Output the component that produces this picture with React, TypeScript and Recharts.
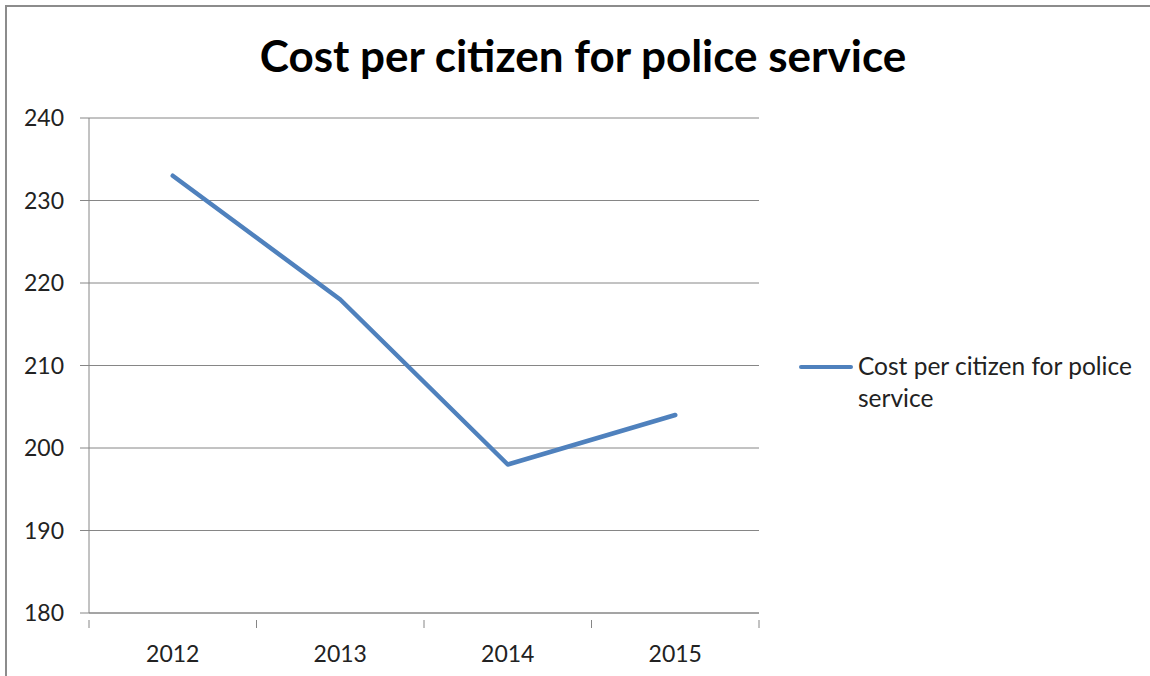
import React from "react";
import { LineChart, Line, XAxis, YAxis, CartesianGrid } from "recharts";

const years = ["2012", "2013", "2014", "2015"];
const costPerCitizen = [233, 218, 198, 204];
const yTicks = [180, 190, 200, 210, 220, 230, 240];
const seriesName = "Cost per citizen for police service";
const title = "Cost per citizen for police service";

const data = years.map((y, i) => ({ year: y, value: costPerCitizen[i] }));

const FONT = "Lato, 'Open Sans', sans-serif";
const GRID = "#868686";
const BLUE = "#4F81BD";

const XTick = (props: any) => {
  const { x, y, payload, index, width } = props;
  const half = width / (2 * years.length);
  const axisY = y - 1;
  return (
    <g>
      <line x1={x - half} x2={x - half} y1={axisY} y2={axisY + 8} stroke={GRID} strokeWidth={1} />
      {index === years.length - 1 && (
        <line x1={x + half} x2={x + half} y1={axisY} y2={axisY + 8} stroke={GRID} strokeWidth={1} />
      )}
      <text x={x} y={axisY + 42} textAnchor="middle" fill="#222" fontSize={23} fontFamily={FONT}>
        {payload.value}
      </text>
    </g>
  );
};

export default function App() {
  return (
    <div style={{ position: "absolute", left: 0, top: 0, width: 1150, height: 676, background: "#fff", overflow: "hidden" }}>
      <div style={{ position: "absolute", left: 5, top: 5, width: 1200, height: 700, borderTop: "2px solid #8c8c8c", borderLeft: "2px solid #8c8c8c" }} />
      <div style={{ position: "absolute", left: 0, top: 29, width: 1166, textAlign: "center", fontFamily: FONT, fontWeight: 700, fontSize: 44, color: "#000" }}>
        {title}
      </div>
      <div style={{ position: "absolute", left: 0, top: 0 }}>
        <LineChart width={1150} height={676} data={data} margin={{ top: 118, right: 391, bottom: 33, left: 29 }}>
          <CartesianGrid vertical={false} stroke={GRID} strokeWidth={1} />
          <XAxis
            dataKey="year"
            scale="band"
            tickLine={false}
            axisLine={{ stroke: GRID }}
            height={30}
            tick={<XTick />}
            interval={0}
          />
          <YAxis
            domain={[180, 240]}
            ticks={yTicks}
            width={60}
            tickSize={9}
            tickMargin={16}
            tickLine={{ stroke: GRID }}
            axisLine={{ stroke: GRID }}
            tick={{ fill: "#222", fontSize: 23, fontFamily: FONT }}
          />
          <Line
            dataKey="value"
            name={seriesName}
            stroke={BLUE}
            strokeWidth={4.5}
            dot={false}
            isAnimationActive={false}
            strokeLinecap="round"
            strokeLinejoin="round"
          />
        </LineChart>
      </div>
      <div style={{ position: "absolute", left: 799, top: 350, display: "flex", alignItems: "flex-start", fontFamily: FONT, fontSize: 24.5, color: "#222", lineHeight: "32px" }}>
        <div style={{ width: 54, height: 4, background: BLUE, marginTop: 15, marginRight: 5, borderRadius: 2 }} />
        <div style={{ width: 290 }}>{seriesName}</div>
      </div>
    </div>
  );
}
